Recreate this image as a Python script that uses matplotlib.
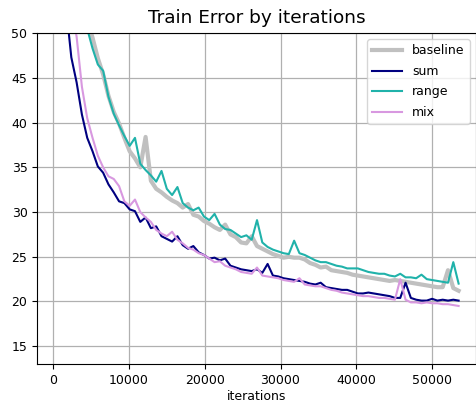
import matplotlib
matplotlib.use("Agg")
from matplotlib import pyplot as plt
import numpy as np

# Train error curves, sampled every 700 iterations
iterations = np.arange(1000, 53600, 700)

baseline = [64, 60, 57, 55, 53, 51.5, 49.5, 47.2, 45.4, 43.0,
            41.2, 39.9, 38.3, 36.8, 36.0, 35.0, 38.4, 33.5, 32.6, 32.2,
            31.7, 31.3, 31.0, 30.5, 30.9, 29.7, 29.5, 29.0, 28.7, 28.3,
            28.0, 28.6, 27.5, 27.2, 26.6, 26.5, 27.3, 26.2, 25.9, 25.6,
            25.3, 25.1, 24.9, 25.0, 24.9, 24.9, 24.7, 24.3, 24.1, 23.8,
            23.9, 23.5, 23.4, 23.3, 23.2, 23.0, 22.9, 22.8, 22.7, 22.6,
            22.5, 22.4, 22.3, 22.4, 22.3, 22.2, 22.1, 22.0, 21.9, 21.8,
            21.7, 21.6, 21.6, 23.5, 21.5, 21.2]

sum_err = [60, 53, 47.3, 44.5, 40.9, 38.3, 36.8, 35.1, 34.4, 33.1,
           32.2, 31.2, 31.0, 30.3, 30.1, 28.9, 29.4, 28.2, 28.4, 27.3,
           27.0, 26.7, 27.3, 26.3, 25.9, 26.2, 25.5, 25.2, 24.8, 24.9,
           24.6, 24.8, 24.0, 23.8, 23.6, 23.5, 23.4, 23.6, 23.2, 24.2,
           22.9, 22.8, 22.6, 22.5, 22.4, 22.3, 22.2, 22.0, 21.9, 22.1,
           21.6, 21.5, 21.4, 21.3, 21.3, 21.1, 20.9, 20.9, 21.0, 20.9,
           20.8, 20.7, 20.6, 20.4, 20.4, 22.1, 20.4, 20.2, 20.1, 20.1,
           20.3, 20.1, 20.2, 20.1, 20.2, 20.1]

range_err = [62, 58, 55.5, 53.5, 51.8, 50.5, 48.3, 46.5, 45.8, 42.9,
             41.0, 39.7, 38.5, 37.4, 38.3, 35.4, 34.7, 34.1, 33.4, 34.6,
             32.6, 31.9, 32.8, 31.0, 30.5, 30.2, 30.5, 29.5, 29.1, 29.8,
             28.6, 28.1, 28.0, 27.6, 27.2, 27.4, 26.9, 29.1, 26.6, 26.1,
             25.8, 25.6, 25.4, 25.3, 26.8, 25.4, 25.2, 24.9, 24.6, 24.4,
             24.4, 24.2, 24.0, 23.9, 23.7, 23.7, 23.7, 23.5, 23.3, 23.2,
             23.1, 23.1, 22.9, 22.8, 23.1, 22.7, 22.7, 22.6, 23.0, 22.5,
             22.4, 22.3, 22.2, 22.1, 24.4, 22.0]

mix_err = [62, 57, 53, 49.6, 44.0, 40.5, 38.3, 36.3, 35.0, 34.0,
           33.7, 32.9, 31.2, 30.7, 31.4, 30.0, 29.4, 28.9, 28.0, 27.6,
           27.3, 27.8, 26.9, 26.5, 26.0, 25.8, 25.4, 25.2, 24.8, 24.4,
           24.5, 24.0, 23.8, 23.6, 23.3, 23.2, 23.1, 23.8, 22.9, 22.8,
           22.7, 22.6, 22.4, 22.3, 22.2, 22.6, 21.9, 21.8, 21.7, 21.7,
           21.5, 21.3, 21.2, 21.0, 20.9, 20.8, 20.7, 20.6, 20.6, 20.5,
           20.4, 20.4, 20.3, 20.2, 22.5, 20.2, 19.9, 19.9, 19.8, 19.9,
           19.8, 19.8, 19.7, 19.7, 19.6, 19.5]

fig = plt.figure(figsize=(4.77, 4.05), dpi=100)
ax = fig.add_axes([0.078, 0.101, 0.92, 0.817])

ax.plot(iterations, baseline, color='#c0c0c0', linewidth=3, label='baseline')
ax.plot(iterations, sum_err, color='navy', linewidth=1.5, label='sum')
ax.plot(iterations, range_err, color='lightseagreen', linewidth=1.5, label='range')
ax.plot(iterations, mix_err, color='#d898e0', linewidth=1.5, label='mix')

ax.set_xlim(-2100, 55800)
ax.set_ylim(13, 50)
ax.set_xticks([0, 10000, 20000, 30000, 40000, 50000])
ax.set_yticks([15, 20, 25, 30, 35, 40, 45, 50])
ax.tick_params(labelsize=9)
ax.grid(True, color='#b0b0b0', linewidth=0.9)

ax.set_title("Train Error by iterations", fontsize=13.3, pad=7)
ax.set_xlabel("iterations", fontsize=9, labelpad=2)
ax.legend(loc="upper right", fontsize=9, handlelength=2.4, labelspacing=0.6)

fig.savefig("out.png", dpi=100)
